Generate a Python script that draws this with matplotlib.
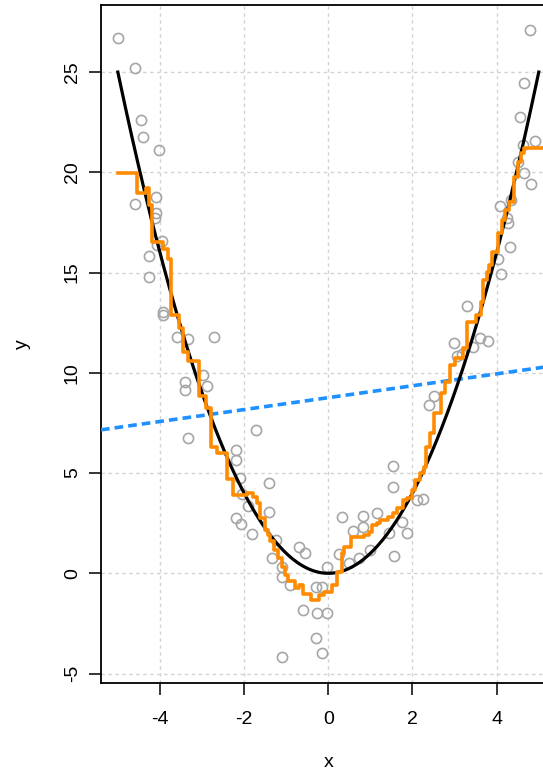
import matplotlib
matplotlib.use("Agg")
import matplotlib.pyplot as plt
import numpy as np

plt.rcParams['font.family'] = ['Liberation Sans', 'DejaVu Sans']
plt.rcParams['axes.unicode_minus'] = False

obs_x = [-4.99, -4.60, -4.46, -4.41, -4.02, -4.09, -4.60, -4.09, -4.12, -3.96,
         -4.08, -4.27, -4.25, -3.93, -3.92, -3.59, -3.33, -2.71, -2.97, -3.41,
         -3.40, -2.89, -3.33, -2.20, -2.20, -2.10, -1.72, -1.41, -2.06, -1.90,
         -1.41, -2.20, -2.08, -1.81, -1.24, -0.70, -0.55, -1.34, -1.11, -1.11,
         -0.91, -0.04, -0.30, -0.16, -0.59, -0.26, -0.02, -0.30, -0.16, -1.11,
         0.33, 0.83, 1.16, 0.59, 0.82, 0.25, 0.50, 0.74, 0.99, 1.44,
         1.53, 1.53, 1.86, 1.74, 1.56, 2.10, 2.24, 2.51, 2.40, 2.99,
         3.06, 3.17, 3.44, 3.60, 3.79, 3.30, 4.02, 4.10, 4.32, 4.28,
         4.25, 4.08, 4.33, 4.81, 4.65, 4.51, 4.63, 4.91, 4.55, 4.66, 4.79]
obs_y = [26.71, 25.22, 22.59, 21.75, 21.13, 18.78, 18.42, 17.99, 17.71, 16.59,
         16.37, 15.83, 14.79, 13.05, 12.88, 11.80, 11.67, 11.79, 9.89, 9.56,
         9.14, 9.34, 6.76, 6.15, 5.65, 4.75, 7.15, 4.49, 3.96, 3.36,
         3.07, 2.74, 2.44, 1.96, 1.66, 1.30, 1.00, 0.75, 0.33, -0.17,
         -0.58, 0.30, -0.67, -0.70, -1.83, -1.97, -2.00, -3.24, -3.96, -4.19,
         2.79, 2.86, 2.99, 2.12, 2.32, 0.96, 0.50, 0.75, 1.16, 2.00,
         5.35, 4.29, 2.00, 2.57, 0.86, 3.66, 3.69, 8.84, 8.41, 11.47,
         10.84, 10.94, 11.27, 11.75, 11.60, 13.33, 15.66, 14.91, 16.29, 17.46,
         17.71, 18.33, 18.62, 19.40, 19.95, 20.53, 21.36, 21.58, 22.74, 24.44, 27.10]

# step fit (orange): level starts at each x edge
step_x = [-5.00, -4.55, -4.32, -4.27, -4.20, -3.92, -3.80, -3.74, -3.54, -3.46,
          -3.33, -3.06, -2.91, -2.79, -2.64, -2.41, -2.26, -1.94, -1.78, -1.70,
          -1.62, -1.50, -1.43, -1.39, -1.29, -1.20, -1.10, -1.02, -0.95, -0.78,
          -0.70, -0.59, -0.42, -0.23, -0.10, 0.09, 0.21, 0.33, 0.38, 0.55,
          0.85, 0.97, 1.05, 1.15, 1.24, 1.42, 1.53, 1.63, 1.77, 1.86,
          1.98, 2.07, 2.18, 2.27, 2.33, 2.42, 2.51, 2.67, 2.78, 2.89,
          3.02, 3.19, 3.30, 3.52, 3.62, 3.68, 3.76, 3.82, 3.88, 4.02,
          4.12, 4.20, 4.29, 4.41, 4.51, 4.58, 4.65, 5.40]
step_y = [19.95, 18.95, 19.20, 18.37, 16.54, 16.17, 15.66, 12.88, 12.22, 11.05,
          10.59, 8.86, 8.26, 6.31, 6.02, 4.70, 3.91, 4.03, 3.79, 3.49,
          2.76, 2.16, 1.91, 1.61, 1.16, 0.75, 0.31, -0.08, -0.38, -0.75,
          -0.58, -1.03, -1.33, -1.08, -0.92, -0.58, 0.06, 1.00, 1.33, 1.79,
          1.91, 2.07, 2.41, 2.52, 2.66, 2.82, 2.99, 3.24, 3.66, 3.74,
          4.15, 4.65, 4.99, 5.32, 6.31, 6.98, 7.98, 8.98, 9.56, 10.39,
          10.72, 11.22, 12.55, 12.88, 13.55, 14.63, 15.04, 15.38, 16.04, 16.96,
          17.62, 18.12, 18.53, 19.78, 20.53, 20.95, 21.20, 21.20]

# linear fit (blue dashed)
lm_intercept = 8.76
lm_slope = 0.297

x_ticks = [-4, -2, 0, 2, 4]
y_ticks = [-5, 0, 5, 10, 15, 20, 25]

fig = plt.figure(figsize=(5.43, 7.74), dpi=100)
ax = fig.add_axes([0.186, 0.1181, 0.8372, 0.8756])
ax.set_xlim(-5.4, 5.4)
ax.set_ylim(-5.45, 28.35)

# R-style grid()
for gx in x_ticks:
    ax.axvline(gx, color='#d3d3d3', lw=1, ls=(0, (2.5, 2.5)), zorder=0)
for gy in y_ticks:
    ax.axhline(gy, color='#d3d3d3', lw=1, ls=(0, (2.5, 2.5)), zorder=0)

ax.plot(obs_x, obs_y, 'o', ms=7.3, mfc='none', mec='#a6a6a6', mew=1.2, zorder=2)

ax.axline((0, lm_intercept), slope=lm_slope, color='#1E90FF', lw=2.6,
          ls=(0, (2.4, 1.4)), zorder=3)

# true function f(x) = x^2
grid = np.linspace(-5, 5, 400)
ax.plot(grid, grid ** 2, color='black', lw=2.3, zorder=4)

ax.step(step_x, step_y, where='post', color='#FF8C00', lw=2.6, zorder=5)

ax.set_xticks(x_ticks)
ax.set_yticks(y_ticks)
ax.tick_params(axis='both', direction='out', length=8.5, width=1.1,
               labelsize=14, color='black')
ax.tick_params(axis='x', pad=12)
ax.tick_params(axis='y', pad=6)
for lab in ax.get_yticklabels():
    lab.set_rotation(90)
    lab.set_va('center')

for s in ax.spines.values():
    s.set_linewidth(1.3)

ax.set_xlabel('x', fontsize=14, labelpad=19)
ax.set_ylabel('y', fontsize=14, labelpad=24)

fig.savefig('out.png', dpi=100)
